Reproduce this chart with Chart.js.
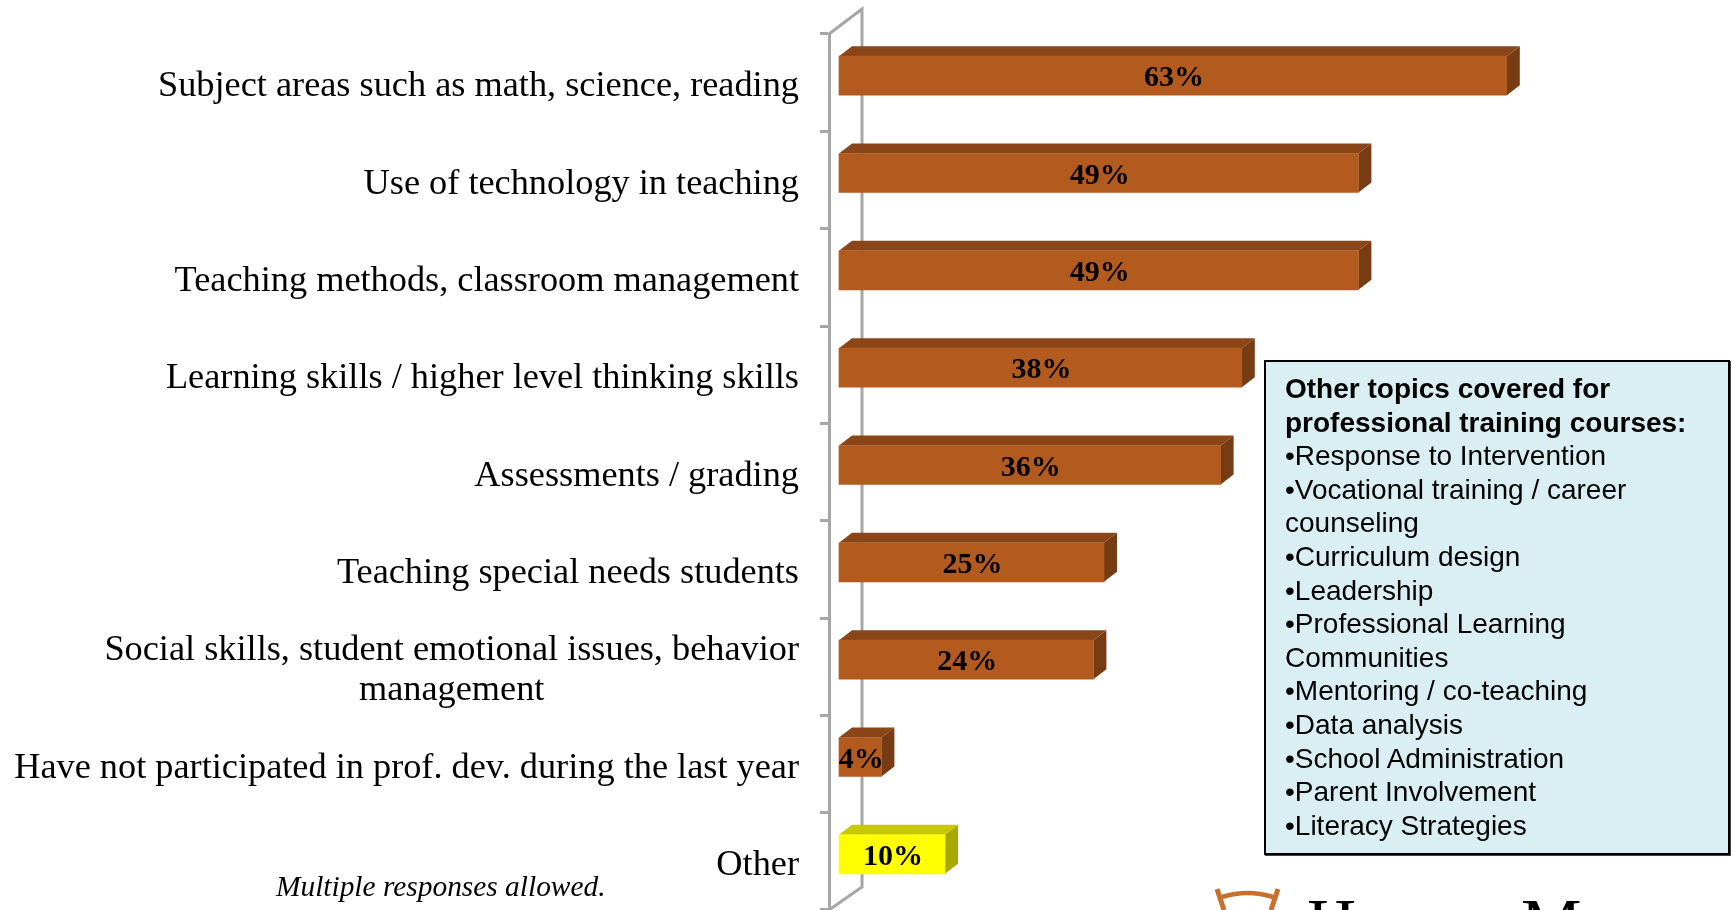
<!DOCTYPE html>
<html>
<head>
  <title>Professional development topics</title>
  <script src="https://cdn.jsdelivr.net/npm/chart.js"></script>
  <style>
    html, body { margin: 0; padding: 0; background: #fff; overflow: hidden; }
    #wrap { position: relative; width: 1732px; height: 910px; overflow: hidden; }
    canvas { display: block; }
    #note {
      position: absolute; left: 1264px; top: 360px; width: 462px; height: 491px;
      border: 2px solid #000; box-shadow: 1px 1px 0 #444; background: #daeff3;
      font: 28px/33.6px "Liberation Sans", sans-serif; color: #000;
    }
    #note div { position: absolute; left: 19px; top: 10px; width: 440px; }
    #foot {
      position: absolute; left: 276px; top: 870px;
      font: italic 29.4px "Liberation Serif", serif; color: #000;
    }
    .logo {
      position: absolute; top: 888px;
      font: 68px/68px "Liberation Serif", serif; color: #000;
    }
    #arc { position: absolute; left: 1210px; top: 885px; }
  </style>
</head>
<body>
<div id="wrap">
  <canvas id="chart" width="1732" height="910"></canvas>
  <div id="note"><div id="noteText"></div></div>
  <div id="foot">Multiple responses allowed.</div>
  <svg id="arc" width="75" height="25">
    <path d="M12 12 Q37.5 4 63 12" fill="none" stroke="#c96f2d" stroke-width="4.5"/>
    <path d="M7 4 L14 25 M68 4 L61 25" fill="none" stroke="#c96f2d" stroke-width="5"/>
  </svg>
  <div class="logo" style="left:1307px">H</div>
  <div class="logo" style="left:1521px">M</div>
</div>

<script>
const categories = [
  "Subject areas such as math, science, reading",
  "Use of technology in teaching",
  "Teaching methods, classroom management",
  "Learning skills / higher level thinking skills",
  "Assessments / grading",
  "Teaching special needs students",
  ["Social skills, student emotional issues, behavior", "management"],
  "Have not participated in prof. dev. during the last year",
  "Other"
];
const values = [63, 49, 49, 38, 36, 25, 24, 4, 10];
const frontColors = ["#b35a1f", "#b35a1f", "#b35a1f", "#b35a1f", "#b35a1f", "#b35a1f", "#b35a1f", "#b35a1f", "#ffff00"];
const topColors = ["#8a4519", "#8a4519", "#8a4519", "#8a4519", "#8a4519", "#8a4519", "#8a4519", "#8a4519", "#c8c800"];
const sideColors = ["#773c14", "#773c14", "#773c14", "#773c14", "#773c14", "#773c14", "#773c14", "#773c14", "#a8a800"];
const noteTitle = ["Other topics covered for", "professional training courses:"];
const noteLines = [
  "•Response to Intervention",
  "•Vocational training / career",
  "counseling",
  "•Curriculum design",
  "•Leadership",
  "•Professional Learning",
  "Communities",
  "•Mentoring / co-teaching",
  "•Data analysis",
  "•School Administration",
  "•Parent Involvement",
  "•Literacy Strategies"
];

document.getElementById("noteText").innerHTML =
  noteTitle.map(t => "<b>" + t + "</b>").join("<br>") + "<br>" + noteLines.join("<br>");

// the old 3D look: bars sit in front of the axis, shifted right and up
const shiftX = 10, shiftY = -7, depthX = 13, depthY = 10;
const wallColor = "#a6a6a6";
const labelFont = '36.3px "Liberation Serif", serif';

const bars3d = {
  id: "bars3d",
  afterLayout(chart) {
    // labels sit a bit lower than the band centre; two line labels are centred on themselves
    const { ctx, chartArea } = chart;
    ctx.save();
    ctx.font = labelFont;
    chart.scales.y.getLabelItems(chartArea).forEach(item => {
      item.options.translation[1] += 4;
      if (Array.isArray(item.label)) {
        item.options.textAlign = "center";
        item.options.translation[0] -= ctx.measureText(item.label[0]).width / 2;
      }
    });
    ctx.restore();
  },
  beforeDatasetsDraw(chart) {
    const { ctx, chartArea } = chart;
    const l = chartArea.left, t = chartArea.top, b = chartArea.bottom;
    ctx.save();
    ctx.strokeStyle = wallColor;
    ctx.lineWidth = 3;
    ctx.beginPath();
    ctx.moveTo(l, t);
    ctx.lineTo(l + 33, t - 25);
    ctx.lineTo(l + 33, b - 23);
    ctx.lineTo(l, b);
    ctx.stroke();
    // top and side faces
    chart.getDatasetMeta(0).data.forEach((bar, i) => {
      const h = bar.height / 2;
      const x0 = bar.base + shiftX, x1 = bar.x + shiftX;
      const y0 = bar.y - h + shiftY, y1 = bar.y + h + shiftY;
      ctx.fillStyle = topColors[i];
      ctx.beginPath();
      ctx.moveTo(x0, y0);
      ctx.lineTo(x0 + depthX, y0 - depthY);
      ctx.lineTo(x1 + depthX, y0 - depthY);
      ctx.lineTo(x1, y0);
      ctx.fill();
      ctx.fillStyle = sideColors[i];
      ctx.beginPath();
      ctx.moveTo(x1, y0);
      ctx.lineTo(x1 + depthX, y0 - depthY);
      ctx.lineTo(x1 + depthX, y1 - depthY);
      ctx.lineTo(x1, y1);
      ctx.fill();
    });
    ctx.restore();
  },
  beforeDatasetDraw(chart) {
    chart.ctx.save();
    chart.ctx.translate(shiftX, shiftY);
  },
  afterDatasetDraw(chart) {
    chart.ctx.restore();
  },
  afterDatasetsDraw(chart) {
    const ctx = chart.ctx;
    ctx.save();
    ctx.font = 'bold 30px "Liberation Serif", serif';
    ctx.fillStyle = "#000";
    ctx.textAlign = "center";
    ctx.textBaseline = "middle";
    chart.getDatasetMeta(0).data.forEach((bar, i) => {
      ctx.fillText(values[i] + "%", (bar.base + bar.x) / 2 + shiftX + 1, bar.y + shiftY + 3);
    });
    ctx.restore();
  }
};

new Chart(document.getElementById("chart"), {
  type: "bar",
  data: {
    labels: categories,
    datasets: [{
      data: values,
      backgroundColor: frontColors,
      barThickness: 39,
      clip: false
    }]
  },
  options: {
    indexAxis: "y",
    responsive: false,
    animation: false,
    events: [],
    layout: { padding: { top: 34, bottom: 0, right: 55 } },
    plugins: { legend: { display: false }, tooltip: { enabled: false } },
    scales: {
      x: { display: false, min: 0, max: 80 },
      y: {
        afterFit(scale) {
          scale.width = 829;
          scale.paddingTop = 0;
          scale.paddingBottom = 0;
        },
        border: { color: wallColor, width: 3 },
        grid: { drawOnChartArea: false, color: wallColor, lineWidth: 3, tickLength: 9 },
        ticks: {
          color: "#000",
          padding: 21,
          autoSkip: false,
          font: { family: '"Liberation Serif", serif', size: 36.3, lineHeight: 1.1 }
        }
      }
    }
  },
  plugins: [bars3d]
});
</script>
</body>
</html>
